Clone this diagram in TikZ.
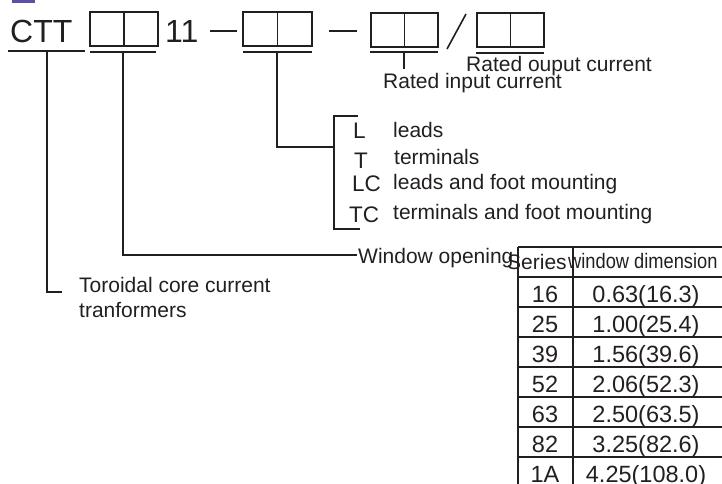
\documentclass[tikz,border=0pt]{standalone}
\usepackage{graphicx}
\usepackage{fontspec}
\setmainfont{Liberation Sans}
\definecolor{ink}{HTML}{231F20}
\definecolor{tabbar}{HTML}{5B4FA8}
\tikzset{
  ln/.style={draw=ink, line width=1.6pt},
  thin/.style={draw=ink, line width=1.2pt},
  codebox/.style={draw=ink, line width=1.6pt, minimum width=#1, minimum height=34pt, inner sep=0pt},
  big/.style={font=\fontsize{32}{36}\selectfont, text=ink, inner sep=0pt, anchor=base west},
  txt/.style={font=\fontsize{21}{25}\selectfont, text=ink, inner sep=0pt, anchor=base west},
  code/.style={font=\fontsize{22.5}{26}\selectfont, text=ink, inner sep=0pt, anchor=base west},
  cell/.style={font=\fontsize{23.5}{27}\selectfont, text=ink, inner sep=0pt, anchor=base},
}
\begin{document}
\begin{tikzpicture}[x=1pt,y=-1pt]
\useasboundingbox (0,0) rectangle (722,484);
% purple tab
\fill[tabbar] (12,0) rectangle (35,3);

% top code row
\node[big] (ctt) at (10,43) {CTT};
\node[codebox=68pt] (b1) at (124,29) {};
\node[big] (eleven) at (165,43) {11};
\node[codebox=69pt] (b2) at (277.5,29) {};
\node[codebox=67pt] (b3) at (404.5,30) {};
\node[codebox=67pt] (b4) at (510.5,30) {};
\foreach \b in {b1,b2,b3,b4} \draw[ln] (\b.north) -- (\b.south);

\coordinate (d1a) at (210,31); \coordinate (d1b) at (237,31);
\coordinate (d2a) at (329,31); \coordinate (d2b) at (357,31);
\draw[ln] (d1a) -- (d1b);
\draw[ln] (d2a) -- (d2b);
\coordinate (sla) at (447,49); \coordinate (slb) at (466,14);
\draw[ln] (sla) -- (slb);

% underlines
\coordinate (u0a) at (8,51);   \coordinate (u0b) at (85,51);
\coordinate (u1a) at (90,52);  \coordinate (u1b) at (156,52);
\coordinate (u2a) at (243,52); \coordinate (u2b) at (312,52);
\coordinate (u3a) at (370,52); \coordinate (u3b) at (438,52);
\coordinate (u4a) at (476,53); \coordinate (u4b) at (544,53);
\foreach \i in {0,...,4} \draw[ln] (u\i a) -- (u\i b);

% labels
\node[txt] (tor1) at (79,292) {Toroidal core current};
\node[txt] (tor2) at (79,317) {tranformers};
\node[txt] (wo) at (358,263) {Window opening};
\node[txt] (rin) at (383,89) {Rated input current};
\node[txt] (rout) at (466,72) {Rated ouput current};

\node[code] (cL) at (353,138) {L};
\node[code] (cT) at (354,168) {T};
\node[code] (cLC) at (352,191) {LC};
\node[code] (cTC) at (349,222) {TC};
\node[txt] (tL) at (393,137) {leads};
\node[txt] (tT) at (394,164) {terminals};
\node[txt] (tLC) at (393,189) {leads and foot mounting};
\node[txt] (tTC) at (393,219) {terminals and foot mounting};

% connectors
\coordinate (k0) at (47,51);  \coordinate (k0e) at (62,292);
\draw[ln] (k0) |- (k0e);
\coordinate (k1) at (123,52); \coordinate (k1e) at (357,255);
\draw[ln] (k1) |- (k1e);
\coordinate (k2) at (277,52); \coordinate (k2e) at (334,147);
\draw[ln] (k2) |- (k2e);
\coordinate (brt) at (358,116); \coordinate (brb) at (360,229);
\draw[ln] (brt) -| (k2e) |- (brb);
\coordinate (k3) at (404,52); \coordinate (k3e) at (404,69);
\draw[ln] (k3) -- (k3e);

% table
\foreach \y in {247,277,307,337,367,397,427,457}
  \draw[thin] (518,\y) -- (722,\y);
\draw[thin] (518,247) -- (518,484);
\draw[thin] (573,247) -- (573,484);
\node[txt] (hser) at (507,269) {Series};
\node[txt] (hdim) at (568,268) {\scalebox{0.87}[1]{window dimension}};
\foreach \s/\d [count=\r from 0] in {16/0.63(16.3),25/1.00(25.4),39/1.56(39.6),52/2.06(52.3),63/2.50(63.5),82/3.25(82.6),1A/4.25(108.0)}{
  \node[cell] (s\r) at (545,302+30*\r) {\s};
  \node[cell] (w\r) at (646,302+30*\r) {\d};
}
\end{tikzpicture}
\end{document}
